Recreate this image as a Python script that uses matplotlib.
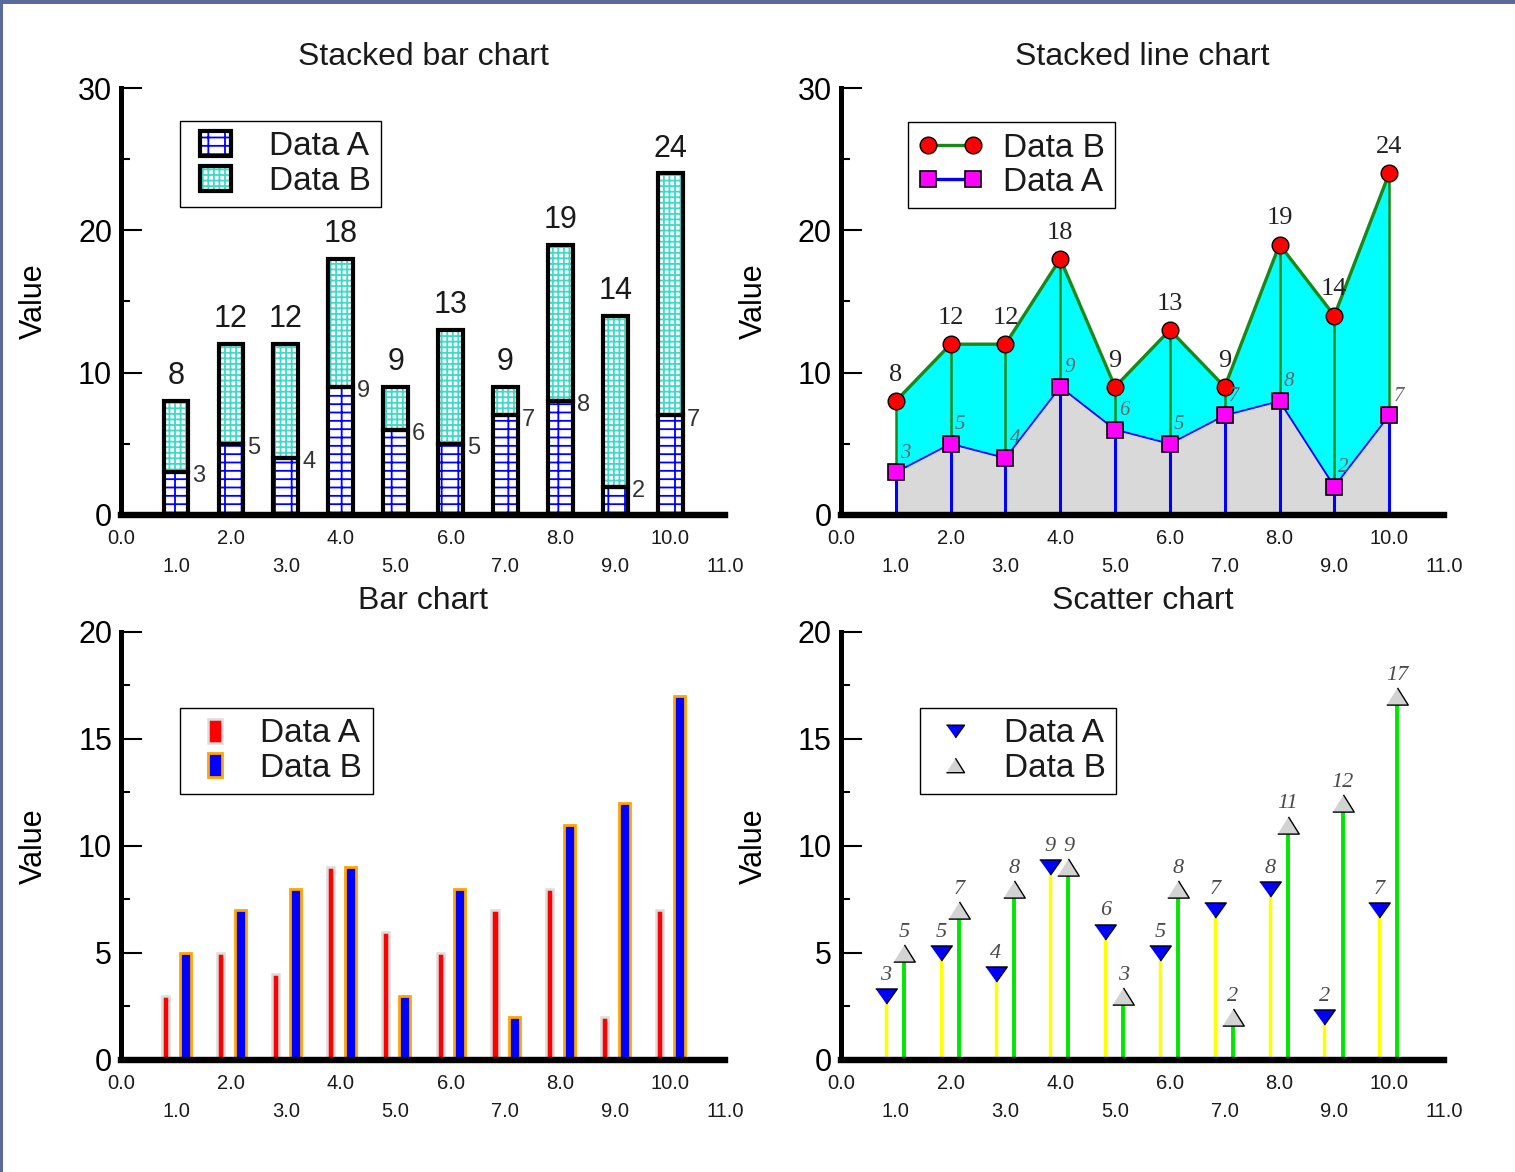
import matplotlib
matplotlib.use("Agg")
import matplotlib.pyplot as plt
from matplotlib.patches import Patch, Rectangle
from matplotlib.lines import Line2D
from matplotlib.legend_handler import HandlerTuple, HandlerPatch

plt.rcParams['font.family'] = ['Liberation Sans', 'DejaVu Sans']
plt.rcParams['hatch.linewidth'] = 1.3
plt.rcParams['text.color'] = '#1a1a1a'
plt.rcParams['xtick.color'] = '#1a1a1a'
plt.rcParams['ytick.color'] = 'black'

# chart data
positions = [1, 2, 3, 4, 5, 6, 7, 8, 9, 10]
data_a = [3, 5, 4, 9, 6, 5, 7, 8, 2, 7]
data_b = [5, 7, 8, 9, 3, 8, 2, 11, 12, 17]
totals = [a + b for a, b in zip(data_a, data_b)]
x_even = [0, 2, 4, 6, 8, 10]
x_odd = [1, 3, 5, 7, 9, 11]

SERIF = ['Liberation Serif', 'DejaVu Serif']
GRAY_TXT = '#4a4a4a'
GREEN = '#188818'
LEG_FS = 24


def style_axes(ax, ymax, ystep, title):
    ax.set_xlim(0, 11)
    ax.set_ylim(0, ymax)
    ax.spines['top'].set_visible(False)
    ax.spines['right'].set_visible(False)
    ax.spines['left'].set_linewidth(3.6)
    ax.spines['bottom'].set_linewidth(4.6)
    ax.spines['left'].set_capstyle('projecting')
    ax.spines['bottom'].set_capstyle('projecting')
    ax.set_yticks(list(range(0, ymax + 1, ystep)))
    ax.set_yticks([v + ystep / 2 for v in range(0, ymax, ystep)], minor=True)
    ax.tick_params(axis='y', which='both', direction='in', width=1.5,
                   labelsize=22, pad=6.5)
    ax.tick_params(axis='y', which='major', length=15)
    ax.tick_params(axis='y', which='minor', length=6.5)
    ax.set_xticks(x_even, labels=[f'{v:.1f}' for v in x_even])
    ax.set_xticks(x_odd, labels=[f'{v:.1f}' for v in x_odd], minor=True)
    ax.tick_params(axis='x', which='both', length=0, labelsize=14.5)
    ax.tick_params(axis='x', which='major', pad=10)
    ax.tick_params(axis='x', which='minor', pad=30)
    ax.set_ylabel('Value', fontsize=22)
    ax.yaxis.set_label_coords(-0.12, 0.5)
    ax.set_title(title, fontsize=23, y=1.0, pad=16.5)


def narrow(w_frac):
    def make(legend, orig_handle, xdescent, ydescent, width, height, fontsize):
        w = w_frac * fontsize
        return Rectangle((-xdescent + (width - w) / 2, -ydescent), w, height)
    return HandlerPatch(patch_func=make)


def legend_box(ax, handles, labels, anchor, **kw):
    leg = ax.legend(handles, labels, loc='upper left', bbox_to_anchor=anchor,
                    borderaxespad=0, fontsize=LEG_FS, frameon=True,
                    fancybox=False, edgecolor='black', framealpha=1,
                    borderpad=0.31, labelspacing=0.1, **kw)
    leg.get_frame().set_linewidth(1.0)
    return leg


fig = plt.figure(figsize=(15.15, 11.72), dpi=100)
ax_sb = fig.add_axes([0.0799, 0.5606, 0.3987, 0.3643])
ax_sl = fig.add_axes([0.5551, 0.5606, 0.3980, 0.3643])
ax_bar = fig.add_axes([0.0799, 0.0956, 0.3987, 0.3652])
ax_sc = fig.add_axes([0.5551, 0.0956, 0.3980, 0.3652])

# --- stacked bar chart
style_axes(ax_sb, 30, 10, 'Stacked bar chart')
bw = 0.45
ax_sb.bar(positions, data_a, width=bw, color='white', edgecolor='#0000ff',
          hatch='--|', linewidth=0)
ax_sb.bar(positions, data_b, bottom=data_a, width=bw, color='white',
          edgecolor='#40d8c8', hatch='+++', linewidth=0)
ax_sb.bar(positions, data_a, width=bw, fill=False, edgecolor='black', linewidth=3)
ax_sb.bar(positions, data_b, bottom=data_a, width=bw, fill=False,
          edgecolor='black', linewidth=3)
for x, a, t in zip(positions, data_a, totals):
    ax_sb.annotate(str(t), (x, t), xytext=(0, 7), textcoords='offset points',
                   ha='center', va='bottom', fontsize=22)
    ax_sb.annotate(str(a), (x + 0.3, a), xytext=(0, -3), textcoords='offset points',
                   ha='left', va='center', fontsize=17, color='#333333')
h_a = (Patch(facecolor='white', edgecolor='#0000ff', hatch='--|', lw=0),
       Patch(fill=False, edgecolor='black', lw=3))
h_b = (Patch(facecolor='white', edgecolor='#40d8c8', hatch='+++', lw=0),
       Patch(fill=False, edgecolor='black', lw=3))
legend_box(ax_sb, [h_a, h_b], ['Data A', 'Data B'], (0.0977, 0.9227),
           handler_map={tuple: HandlerTuple(ndivide=1), Patch: narrow(0.95)},
           handlelength=1.5, handleheight=0.78, handletextpad=0.85)

# --- stacked line chart
style_axes(ax_sl, 30, 10, 'Stacked line chart')
ax_sl.fill_between(positions, 0, data_a, color='#d9d9d9', lw=0)
ax_sl.fill_between(positions, data_a, totals, color='#00ffff', lw=0)
ax_sl.vlines(positions, 0, data_a, color='#0000ff', lw=2.2)
ax_sl.vlines(positions, data_a, totals, color=GREEN, lw=1.8)
ax_sl.plot(positions, data_a, color='#0000ff', lw=1.3)
ax_sl.plot(positions, totals, color=GREEN, lw=2.4)
ax_sl.plot(positions, totals, ls='none', marker='o', ms=12, mfc='red',
           mec='black', mew=1)
ax_sl.plot(positions, data_a, ls='none', marker='s', ms=12, mfc='#ff00ff',
           mec='black', mew=1.2)
for x, a, t in zip(positions, data_a, totals):
    ax_sl.annotate(str(t), (x, t), xytext=(0, 11), textcoords='offset points',
                   ha='center', va='bottom', fontsize=19, family=SERIF,
                   color='#222222')
    ax_sl.annotate(str(a), (x, a), xytext=(3, 7), textcoords='offset points',
                   ha='left', va='bottom', fontsize=15, family=SERIF,
                   style='italic', color='#666666')
line_b = Line2D([], [], color=GREEN, lw=2.4, marker='o', ms=12, mfc='red',
                mec='black', mew=1)
line_a = Line2D([], [], color='#0000ff', lw=2.4, marker='s', ms=12,
                mfc='#ff00ff', mec='black', mew=1.2)
legend_box(ax_sl, [line_b, line_a], ['Data B', 'Data A'], (0.111, 0.920),
           numpoints=2, handlelength=1.95, handletextpad=0.6)

# --- bar chart
style_axes(ax_bar, 20, 5, 'Bar chart')
ax_bar.bar([p - 0.19 for p in positions], data_a, width=0.13, color='#ff0000',
           edgecolor='#dcdcdc', linewidth=1.8)
ax_bar.bar([p + 0.17 for p in positions], data_b, width=0.2, color='#0000ff',
           edgecolor='#ffa500', linewidth=2.0)
p_a = Patch(facecolor='#ff0000', edgecolor='#dcdcdc', lw=1.8)
p_b = Patch(facecolor='#0000ff', edgecolor='#ffa500', lw=2.0)
legend_box(ax_bar, [p_a, p_b], ['Data A', 'Data B'], (0.0977, 0.8224),
           handler_map={Patch: narrow(0.42)}, handlelength=1.45,
           handleheight=0.72, handletextpad=0.65)

# --- scatter chart
style_axes(ax_sc, 20, 5, 'Scatter chart')
down_tri = [(-1, 0.7), (1, 0.7), (0, -0.7)]
up_tri = [(-1, -0.8), (1, -0.8), (0, 0.8)]
xa = [p - 0.18 for p in positions]
xb = [p + 0.15 for p in positions]
ax_sc.vlines(xa, 0, data_a, color='#ffff00', lw=2.5)
ax_sc.vlines(xb, 0, data_b, color='#00e600', lw=2.8)
ax_sc.plot(xa, data_a, ls='none', marker=down_tri, ms=15.5, mfc='#0000ff',
           mec='black', mew=1)
ax_sc.plot(xb, data_b, ls='none', marker=up_tri, ms=15.5, mfc='#d3d3d3',
           mec='black', mew=1)
for x, v in zip(xa, data_a):
    ax_sc.annotate(str(v), (x, v), xytext=(0, 8), textcoords='offset points',
                   ha='center', va='bottom', fontsize=16, family=SERIF,
                   style='italic', color=GRAY_TXT)
for x, v in zip(xb, data_b):
    ax_sc.annotate(str(v), (x, v), xytext=(0, 8), textcoords='offset points',
                   ha='center', va='bottom', fontsize=16, family=SERIF,
                   style='italic', color=GRAY_TXT)
m_a = Line2D([], [], ls='none', marker=down_tri, ms=13, mfc='#0000ff',
             mec='black', mew=1)
m_b = Line2D([], [], ls='none', marker=up_tri, ms=13, mfc='#d3d3d3',
             mec='black', mew=1)
legend_box(ax_sc, [m_a, m_b], ['Data A', 'Data B'], (0.131, 0.8224),
           numpoints=1, handlelength=1.5, handletextpad=0.7)

# blue frame strips at left and top edges
fig.add_artist(Rectangle((0, 0), 3 / 1515, 1, transform=fig.transFigure,
                         color='#5a6a9c', lw=0))
fig.add_artist(Rectangle((0, 1 - 4 / 1172), 1, 4 / 1172,
                         transform=fig.transFigure, color='#5a6a9c', lw=0))

fig.savefig('out.png', dpi=100)
